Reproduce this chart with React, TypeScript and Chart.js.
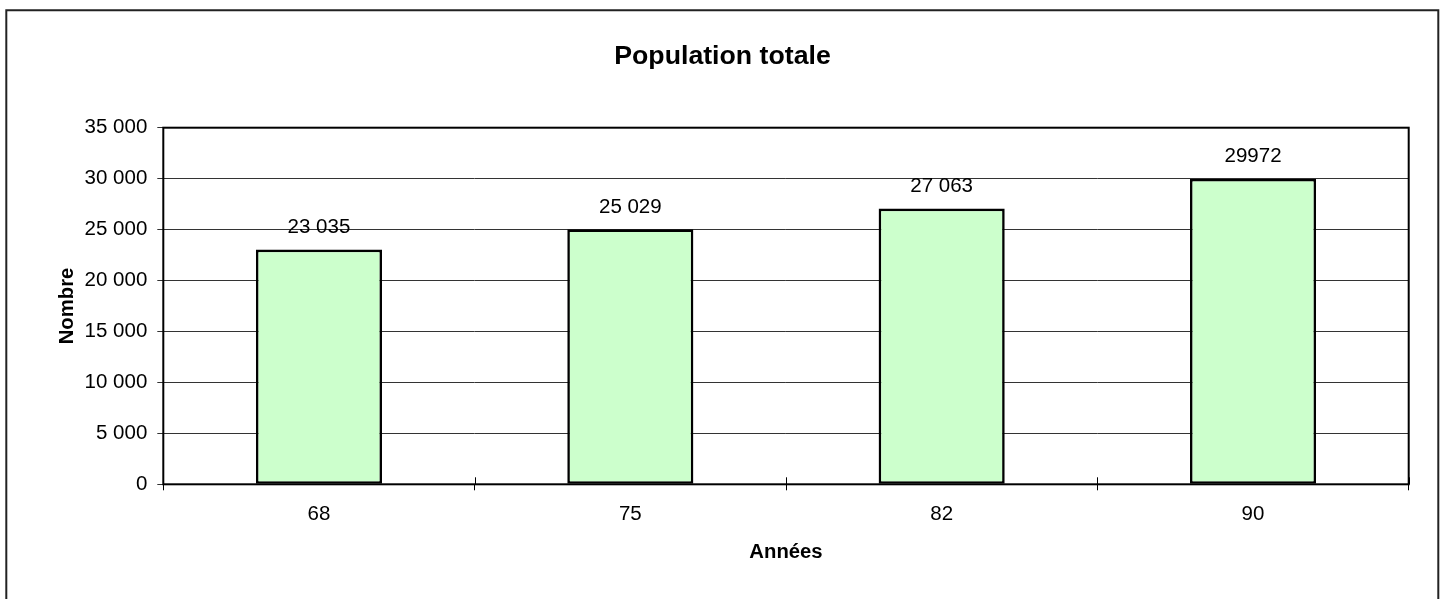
import React, { useEffect, useRef } from "react";
import { Chart, registerables } from "chart.js";

Chart.register(...registerables);

const categories = ["68", "75", "82", "90"];
const populationValues = [23035, 25029, 27063, 29972];
const valueLabels = ["23 035", "25 029", "27 063", "29972"];
const yMin = 0;
const yMax = 35000;
const yStep = 5000;
const chartTitle = "Population totale";
const xTitle = "Années";
const yTitle = "Nombre";

const FONT = "'Liberation Sans', Arial, Helvetica, sans-serif";
const W = 1447;
const H = 599;

function formatThousands(v: number): string {
  return String(v).replace(/\B(?=(\d{3})+(?!\d))/g, " ");
}

const decorPlugin = {
  id: "decor",
  afterDraw(chart: any) {
    const { ctx, chartArea: a } = chart;
    const xs = chart.scales.x;
    ctx.save();
    // outer frame
    ctx.strokeStyle = "#222";
    ctx.lineWidth = 2;
    ctx.beginPath();
    ctx.moveTo(6.3, H + 20);
    ctx.lineTo(6.3, 10.2);
    ctx.lineTo(1438.3, 10.2);
    ctx.lineTo(1438.3, H + 20);
    ctx.stroke();

    // plot frame
    ctx.strokeStyle = "#000";
    ctx.lineWidth = 2;
    ctx.strokeRect(a.left, a.top, a.right - a.left, a.bottom - a.top);

    // cross tick marks on x axis (upper half)
    ctx.lineWidth = 1;
    const n = categories.length;
    ctx.beginPath();
    for (let i = 0; i <= n; i++) {
      const px = Math.round(xs.left + (i * (xs.right - xs.left)) / n) + 0.5;
      ctx.moveTo(px, a.bottom - 7);
      ctx.lineTo(px, a.bottom);
    }
    ctx.stroke();

    ctx.fillStyle = "#000";
    ctx.textBaseline = "alphabetic";
    ctx.textAlign = "center";

    // chart title
    ctx.font = `bold 26.7px ${FONT}`;
    ctx.fillText(chartTitle, 722.5, 64.3);

    // x title
    ctx.font = `bold 20.3px ${FONT}`;
    ctx.fillText(xTitle, (a.left + a.right) / 2, 558.2);

    // y title
    ctx.save();
    ctx.translate(73, (a.top + a.bottom) / 2);
    ctx.rotate(-Math.PI / 2);
    ctx.fillText(yTitle, 0, 0);
    ctx.restore();

    // value labels
    ctx.font = `20.5px ${FONT}`;
    const meta = chart.getDatasetMeta(0);
    meta.data.forEach((bar: any, i: number) => {
      ctx.fillText(valueLabels[i], bar.x, bar.y - 16.5);
    });
    ctx.restore();
  },
};

export default function App() {
  const canvasRef = useRef<HTMLCanvasElement | null>(null);

  useEffect(() => {
    const canvas = canvasRef.current;
    if (!canvas) return;
    const chart = new Chart(canvas, {
      type: "bar",
      data: {
        labels: categories,
        datasets: [
          {
            label: chartTitle,
            data: populationValues,
            backgroundColor: "#CCFFCC",
            borderColor: "#000",
            borderWidth: 2.6,
            borderSkipped: false,
            barPercentage: 0.405,
            categoryPercentage: 1,
          },
        ],
      },
      options: {
        responsive: false,
        animation: false,
        devicePixelRatio: 1,
        layout: {
          padding: { left: 0, top: 127.7, right: 38.3, bottom: 0 },
        },
        plugins: {
          legend: { display: false },
          title: { display: false },
          tooltip: { enabled: false },
        },
        scales: {
          x: {
            type: "category",
            offset: true,
            border: { display: false },
            grid: {
              offset: true,
              drawOnChartArea: false,
              drawTicks: true,
              tickLength: 6,
              color: "#000",
              lineWidth: 1,
            },
            ticks: {
              color: "#000",
              padding: 12,
              font: { family: FONT, size: 20.5 },
              maxRotation: 0,
            },
            afterFit(scale: any) {
              scale.height = H - 484.3;
            },
          },
          y: {
            min: yMin,
            max: yMax,
            border: { display: false },
            grid: {
              color: "#333",
              lineWidth: 1,
              drawTicks: true,
              tickLength: 6,
            },
            ticks: {
              stepSize: yStep,
              color: "#000",
              padding: 10,
              font: { family: FONT, size: 20.5 },
              callback: (v: any) => formatThousands(Number(v)),
            },
            afterFit(scale: any) {
              scale.width = 163.3;
            },
          },
        },
      },
      plugins: [decorPlugin],
    });
    return () => chart.destroy();
  }, []);

  return (
    <div style={{ position: "absolute", left: 0, top: 0, width: W, height: H, background: "#fff" }}>
      <canvas ref={canvasRef} width={W} height={H} style={{ display: "block" }} />
    </div>
  );
}
